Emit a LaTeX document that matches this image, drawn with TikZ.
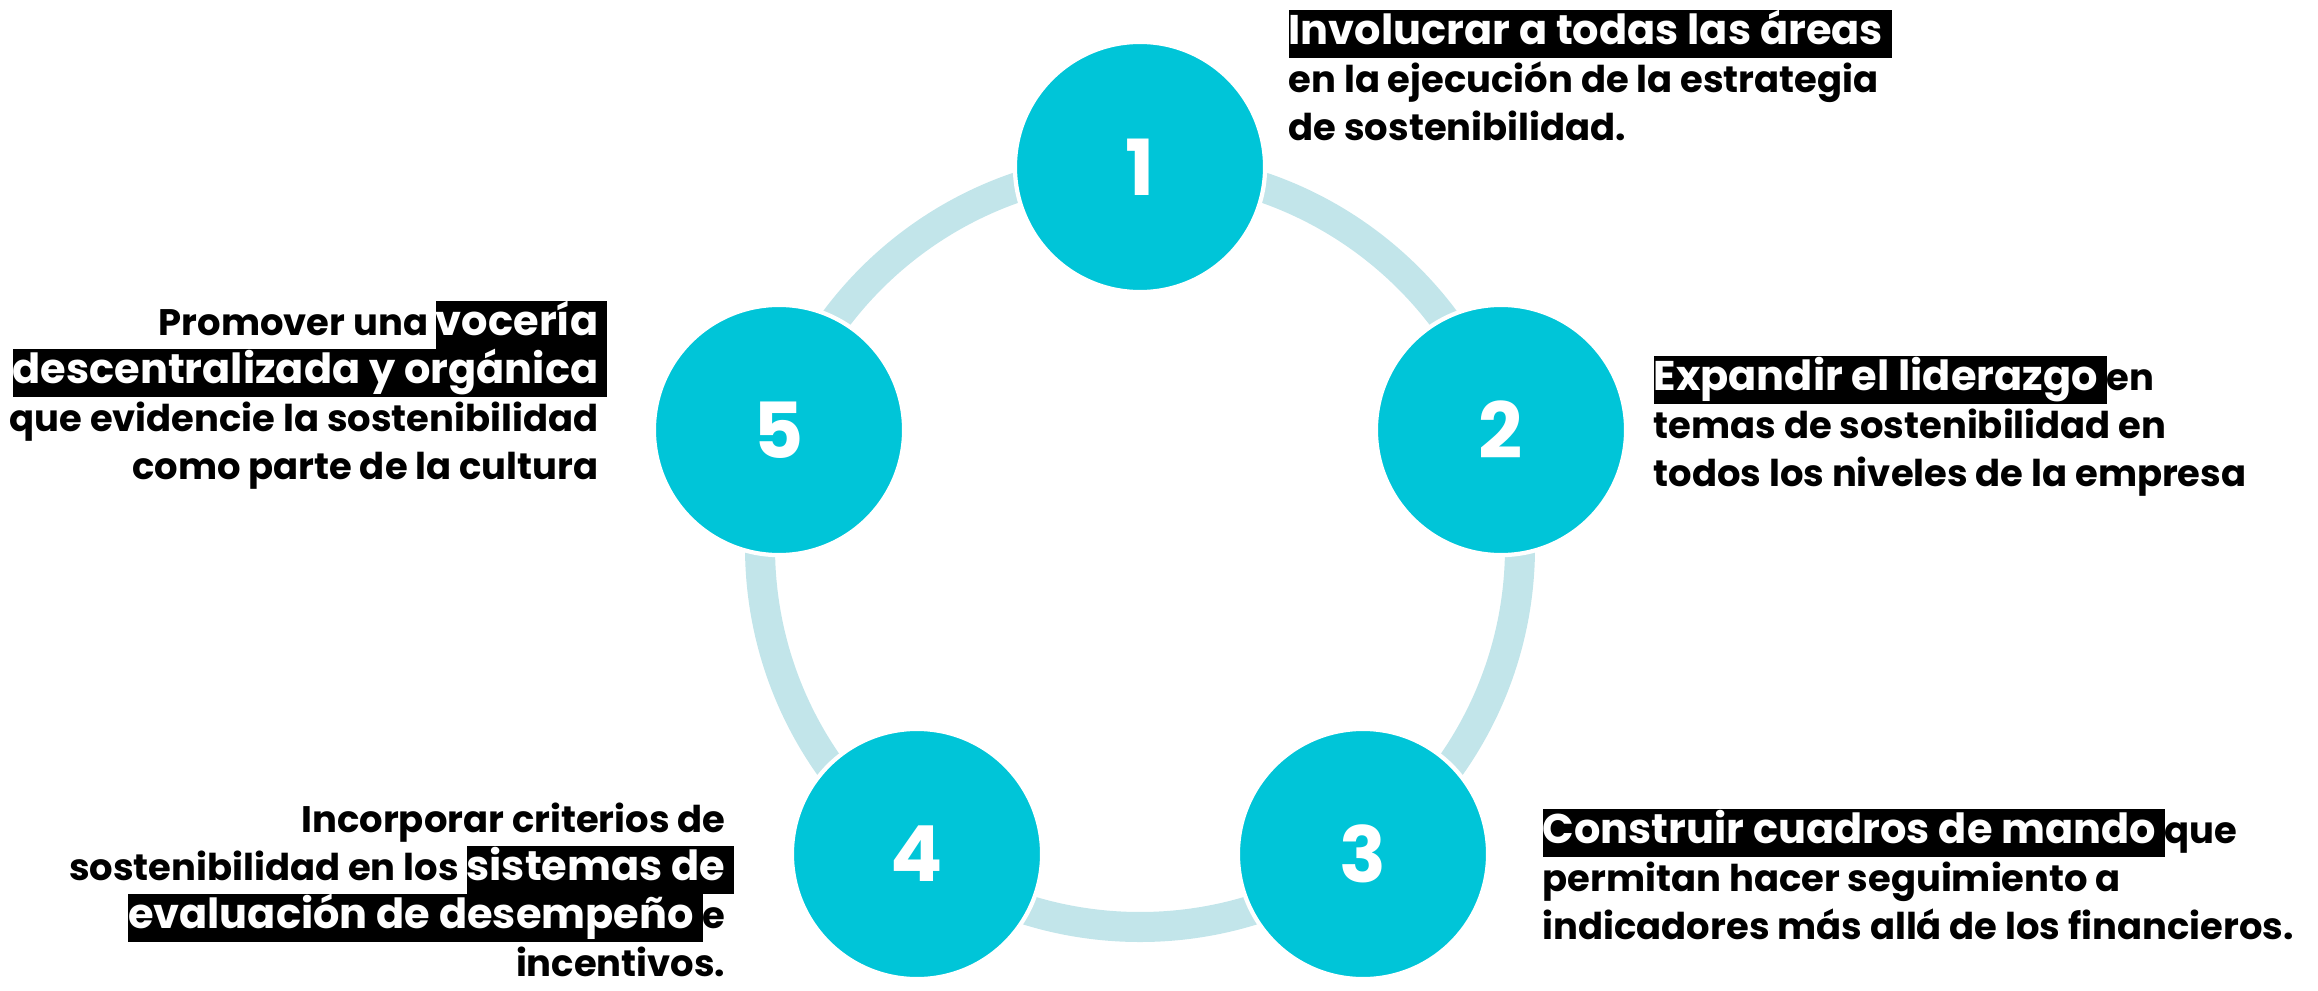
\documentclass[tikz,border=0pt]{standalone}
\usepackage{fontspec}
\setmainfont{Poppins}
\definecolor{stagecyan}{RGB}{0,197,216}
\definecolor{ringblue}{RGB}{194,229,234}
\newcommand{\ls}{\rule[-3.7pt]{0pt}{13.66pt}}
\newcommand{\hl}[1]{{\setlength{\fboxsep}{0pt}\colorbox{black}{\ls\fontsize{11.8}{13.66}\selectfont\color{white}#1}}}
\newcommand{\hlsp}{\rlap{\hl{\ }}}
\begin{document}
\begin{tikzpicture}[x=0.01cm,y=-0.01cm]
\tikzstyle{every node}+=[inner sep=0pt]
\tikzstyle{stage}=[circle,fill=stagecyan,draw=white,line width=1.2pt,minimum size=2.5cm,text=white,font=\fontsize{22}{22}\selectfont\bfseries]
\tikzstyle{txt}=[font=\fontsize{10.5}{13.66}\selectfont\bfseries]
\useasboundingbox (0,0) rectangle (2318,991);
\coordinate (ctr) at (1140,547);
\draw [ringblue,line width=0.3cm] (ctr) circle (380);
\node [stage] (s1) at (1140,167) {1};
\node [stage] (s2) at (1501,430) {2};
\node [stage] (s3) at (1363,854) {3};
\node [stage] (s4) at (917,854) {4};
\node [stage] (s5) at (779,430) {5};
\node [txt,anchor=north west,align=left] (t1) at (1288,9) {\hl{Involucrar a todas las áreas\ }\\\ls en la ejecución de la estrategia\\\ls de sostenibilidad.};
\node [txt,anchor=north west,align=left] (t2) at (1653,355) {\hl{Expandir el liderazgo\ }en\\\ls temas de sostenibilidad en\\\ls todos los niveles de la empresa};
\node [txt,anchor=north west,align=left] (t3) at (1542,808) {\hl{Construir cuadros de mando\ }que\\\ls permitan hacer seguimiento a\\\ls indicadores más allá de los financieros.};
\node [txt,anchor=north east,align=right] (t4) at (726,797) {\ls Incorporar criterios de\\\ls sostenibilidad en los \hl{sistemas de}\hlsp\\\hl{evaluación de desempeño\ }e\\\ls incentivos.};
\node [txt,anchor=north east,align=right] (t5) at (599,300) {\ls Promover una \hl{vocería}\hlsp\\\hl{descentralizada y orgánica}\hlsp\\\ls que evidencie la sostenibilidad\\\ls como parte de la cultura};
\end{tikzpicture}
\end{document}
